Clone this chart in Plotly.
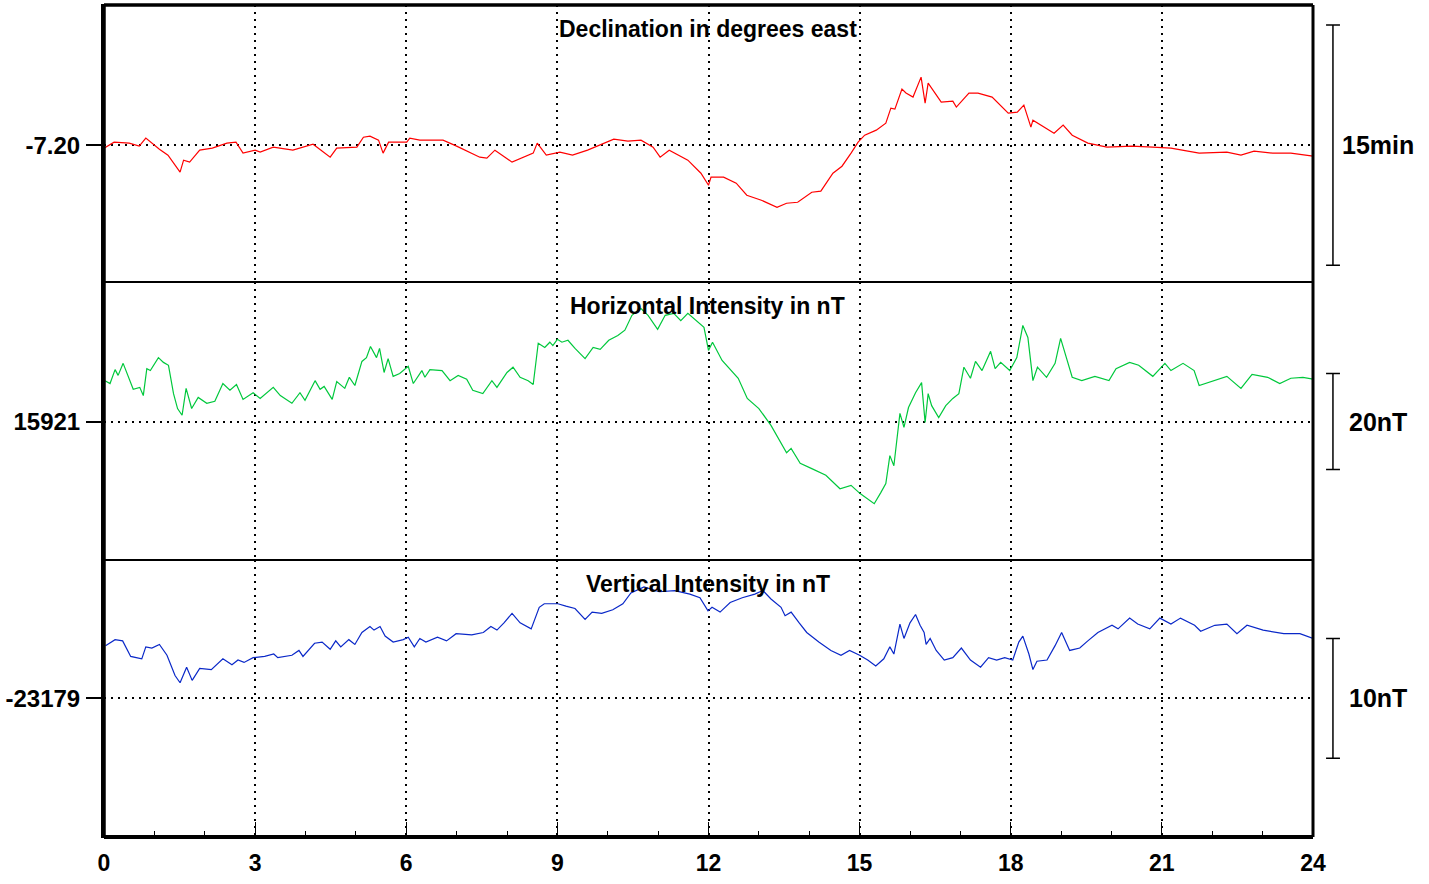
import plotly.graph_objects as go

# ---------------- data (hours UT, values) ----------------
t_dec = [0.00,0.20,0.50,0.70,0.83,1.10,1.27,1.40,1.51,1.58,1.70,1.90,2.15,2.44,2.62,2.76,3.00,3.10,3.36,3.75,
         4.15,4.49,4.62,5.02,5.15,5.28,5.45,5.54,5.65,6.01,6.07,6.27,6.73,7.00,7.46,7.60,7.76,8.10,8.52,8.60,
         8.78,9.05,9.30,9.60,9.85,10.12,10.40,10.66,10.90,11.04,11.22,11.59,11.85,12.00,12.05,12.30,12.55,12.76,13.05,13.36,
         13.55,13.77,14.05,14.23,14.47,14.65,14.83,14.97,15.10,15.33,15.52,15.62,15.70,15.84,15.92,16.06,16.22,16.30,16.36,16.62,
         16.85,16.92,17.17,17.35,17.63,17.95,18.13,18.26,18.40,18.44,18.86,19.04,19.22,19.53,19.91,20.40,20.82,21.18,21.74,22.29,
         22.57,22.83,23.20,23.56,24.00]
dec = [-7.2031,-7.1969,-7.1979,-7.2010,-7.1927,-7.2042,-7.2104,-7.2198,-7.2281,-7.2156,-7.2177,-7.2052,-7.2031,-7.1979,-7.1969,-7.2083,-7.2052,-7.2073,-7.2021,-7.2052,
       -7.1990,-7.2125,-7.2031,-7.2021,-7.1917,-7.1906,-7.1948,-7.2083,-7.1969,-7.1969,-7.1927,-7.1948,-7.1948,-7.2010,-7.2125,-7.2135,-7.2052,-7.2177,-7.2083,-7.1979,
       -7.2104,-7.2073,-7.2104,-7.2052,-7.2000,-7.1938,-7.1958,-7.1948,-7.2021,-7.2125,-7.2052,-7.2156,-7.2292,-7.2417,-7.2333,-7.2333,-7.2396,-7.2521,-7.2573,-7.2646,
       -7.2604,-7.2594,-7.2490,-7.2479,-7.2292,-7.2219,-7.2083,-7.1969,-7.1896,-7.1844,-7.1771,-7.1615,-7.1625,-7.1417,-7.1458,-7.1500,-7.1292,-7.1563,-7.1354,-7.1552,
       -7.1542,-7.1604,-7.1458,-7.1458,-7.1500,-7.1667,-7.1656,-7.1583,-7.1813,-7.1740,-7.1875,-7.1792,-7.1896,-7.1979,-7.2021,-7.2010,-7.2021,-7.2031,-7.2083,-7.2073,
       -7.2104,-7.2063,-7.2083,-7.2083,-7.2115]

t_h = [0.02,0.12,0.22,0.28,0.38,0.48,0.58,0.71,0.78,0.85,0.92,1.08,1.18,1.28,1.38,1.46,1.55,1.63,1.74,1.87,
       2.04,2.20,2.36,2.50,2.63,2.76,2.96,3.10,3.36,3.50,3.73,3.89,3.99,4.19,4.29,4.37,4.53,4.62,4.78,4.87,
       4.98,5.12,5.21,5.29,5.41,5.47,5.56,5.64,5.74,5.87,6.04,6.14,6.31,6.37,6.47,6.71,6.87,7.03,7.20,7.32,
       7.52,7.70,7.80,8.00,8.12,8.26,8.42,8.52,8.62,8.75,8.85,8.91,9.00,9.09,9.21,9.35,9.55,9.71,9.85,10.02,
       10.20,10.34,10.48,10.66,10.80,10.99,11.14,11.31,11.45,11.59,11.81,11.91,12.00,12.08,12.27,12.50,12.59,12.77,13.00,13.24,
       13.42,13.55,13.64,13.82,14.05,14.33,14.61,14.83,15.01,15.15,15.29,15.42,15.52,15.60,15.68,15.80,15.88,15.97,16.11,16.23,
       16.30,16.36,16.43,16.57,16.71,16.85,16.97,17.07,17.20,17.30,17.43,17.60,17.69,17.80,17.98,18.12,18.24,18.34,18.44,18.53,
       18.71,18.88,18.99,19.22,19.41,19.67,19.95,20.09,20.36,20.54,20.82,21.06,21.18,21.42,21.64,21.74,22.01,22.29,22.57,22.79,
       23.10,23.34,23.56,23.80,24.00]
h_nt = [15929.5,15928.9,15931.8,15930.6,15933.1,15930.2,15927.7,15928.1,15926.4,15932.0,15931.6,15934.3,15933.3,15932.7,15926.8,15923.7,15922.3,15927.9,15923.7,15926.0,
        15924.8,15925.2,15928.9,15927.5,15928.7,15925.6,15927.0,15925.8,15928.1,15926.4,15924.8,15927.0,15925.4,15929.5,15927.7,15928.3,15925.6,15929.3,15927.9,15930.2,
        15928.5,15933.5,15934.3,15936.6,15934.3,15936.2,15931.2,15934.1,15930.4,15931.0,15932.5,15928.9,15931.6,15930.2,15931.8,15931.6,15929.5,15930.6,15929.8,15927.5,
        15926.8,15929.5,15928.1,15931.2,15932.3,15930.2,15929.5,15928.7,15937.3,15936.4,15937.5,15936.8,15938.1,15937.5,15937.9,15936.2,15934.1,15936.4,15936.0,15937.9,
        15938.9,15940.0,15943.1,15944.5,15943.1,15940.2,15943.1,15943.5,15942.0,15943.5,15941.6,15940.6,15935.8,15937.5,15933.7,15931.2,15930.0,15925.8,15923.7,15920.2,
        15917.0,15914.5,15915.4,15912.3,15911.2,15909.8,15907.0,15907.7,15906.0,15905.0,15903.9,15906.2,15908.1,15913.9,15911.8,15922.7,15919.8,15923.9,15927.0,15929.1,
        15920.8,15926.8,15924.3,15921.8,15924.3,15925.8,15926.8,15932.3,15930.0,15933.5,15931.6,15935.6,15932.0,15933.3,15931.6,15934.3,15941.0,15938.5,15929.5,15932.3,
        15930.2,15933.1,15938.3,15930.2,15929.5,15930.4,15929.5,15932.0,15933.3,15932.7,15930.4,15933.1,15931.6,15933.1,15931.6,15928.5,15929.5,15930.4,15927.9,15930.8,
        15930.2,15928.9,15930.0,15930.2,15929.8]

t_z = [0.03,0.22,0.37,0.53,0.64,0.75,0.83,0.95,1.10,1.25,1.41,1.51,1.64,1.75,1.90,2.13,2.36,2.54,2.66,2.78,
       2.96,3.19,3.37,3.45,3.73,3.87,3.95,4.18,4.33,4.49,4.60,4.70,4.86,4.98,5.12,5.28,5.36,5.48,5.58,5.74,
       5.94,6.04,6.16,6.27,6.39,6.62,6.80,6.99,7.30,7.53,7.68,7.80,7.94,8.10,8.26,8.48,8.64,8.74,8.86,9.01,
       9.17,9.35,9.55,9.69,9.88,10.10,10.30,10.46,10.72,11.02,11.33,11.63,11.83,11.99,12.07,12.23,12.43,12.67,12.92,13.08,
       13.24,13.44,13.52,13.64,13.80,13.95,14.19,14.43,14.63,14.80,15.00,15.16,15.32,15.48,15.60,15.68,15.80,15.88,16.00,16.11,
       16.20,16.28,16.32,16.40,16.52,16.68,16.85,17.02,17.20,17.40,17.56,17.72,17.88,18.04,18.16,18.24,18.36,18.44,18.52,18.72,
       18.88,19.01,19.17,19.37,19.53,19.73,20.01,20.13,20.36,20.52,20.76,20.96,21.18,21.37,21.65,21.77,22.05,22.29,22.49,22.69,
       23.01,23.42,23.74,24.00]
z_nt = [-23174.6,-23174.1,-23174.2,-23175.5,-23175.6,-23175.7,-23174.7,-23174.8,-23174.5,-23175.4,-23177.1,-23177.7,-23176.4,-23177.5,-23176.5,-23176.6,-23175.7,-23176.2,-23175.8,-23176.0,
        -23175.6,-23175.5,-23175.3,-23175.6,-23175.4,-23175.0,-23175.5,-23174.4,-23174.3,-23174.9,-23174.2,-23174.7,-23174.1,-23174.5,-23173.5,-23173.0,-23173.3,-23173.0,-23173.8,-23174.3,
        -23174.1,-23173.9,-23174.7,-23174.0,-23174.3,-23173.9,-23174.2,-23173.6,-23173.7,-23173.5,-23173.0,-23173.3,-23172.7,-23171.9,-23172.7,-23173.2,-23171.4,-23171.1,-23171.1,-23171.1,
        -23171.3,-23171.5,-23172.4,-23171.8,-23171.9,-23171.6,-23171.1,-23170.2,-23169.7,-23170.1,-23170.0,-23170.3,-23170.6,-23171.7,-23171.4,-23171.8,-23171.0,-23170.6,-23170.3,-23170.0,
        -23170.7,-23171.4,-23172.1,-23171.8,-23172.7,-23173.5,-23174.3,-23175.0,-23175.4,-23175.0,-23175.4,-23175.8,-23176.3,-23175.7,-23174.7,-23175.3,-23172.8,-23174.0,-23172.7,-23172.0,
        -23172.9,-23173.5,-23174.5,-23174.0,-23175.0,-23175.8,-23175.6,-23174.8,-23175.8,-23176.4,-23175.6,-23175.8,-23175.6,-23175.8,-23174.3,-23173.8,-23175.3,-23176.6,-23175.9,-23175.8,
        -23174.6,-23173.5,-23175.0,-23174.8,-23174.2,-23173.5,-23172.9,-23173.2,-23172.3,-23172.8,-23173.2,-23172.3,-23172.8,-23172.3,-23172.9,-23173.4,-23172.9,-23172.8,-23173.6,-23172.9,
        -23173.3,-23173.6,-23173.6,-23174.0]

panel_titles = ["Declination in degrees east", "Horizontal Intensity in nT", "Vertical Intensity in nT"]
ref_values = [-7.20, 15921, -23179]
ref_labels = ["-7.20", "15921", "-23179"]
scale_sizes = [0.25, 20, 10]          # 15 arcmin, 20 nT, 10 nT
scale_labels = ["15min", "20nT", "10nT"]
y_ranges = [[-7.3427, -7.0542], [15892.25, 15949.96], [-23190.58, -23167.42]]
hour_ticks = list(range(0, 25, 3))
colors = ["#ff0000", "#00c83c", "#0a28c8"]

# ---------------- figure ----------------
FONT = "Liberation Sans, Arial, Helvetica, sans-serif"
fig = go.Figure()
series = [(t_dec, dec), (t_h, h_nt), (t_z, z_nt)]
for i, (tx, vy) in enumerate(series):
    sfx = "" if i == 0 else str(i + 1)
    fig.add_trace(go.Scatter(x=tx, y=vy, mode="lines", line=dict(color=colors[i], width=1.2),
                             xaxis="x" + sfx, yaxis="y" + sfx, showlegend=False, hoverinfo="skip"))

domains = [[2 / 3, 1.0], [1 / 3, 2 / 3], [0.0, 1 / 3]]
layout = dict(
    width=1429, height=884,
    margin=dict(l=104, r=116, t=5, b=47, autoexpand=False),
    paper_bgcolor="white", plot_bgcolor="white",
    font=dict(family=FONT, color="black"),
    showlegend=False,
)
for i in range(3):
    sfx = "" if i == 0 else str(i + 1)
    bottom = (i == 2)
    xa = dict(
        domain=[0, 1], anchor="y" + sfx, range=[0, 24],
        tickmode="array", tickvals=hour_ticks, ticktext=[str(h) for h in hour_ticks],
        showticklabels=bottom, automargin=False,
        ticks="inside" if bottom else "", ticklen=15, tickwidth=1, tickcolor="black",
        showgrid=True, gridcolor="black", gridwidth=1.6, griddash="2px,5px",
        showline=True, linecolor="black", linewidth=1, mirror=True,
        zeroline=False, fixedrange=True,
        tickfont=dict(family=FONT, size=23, color="black", weight="bold"),
    )
    if bottom:
        xa["minor"] = dict(dtick=1, tick0=0, ticks="inside", ticklen=6, tickwidth=1,
                           tickcolor="black", showgrid=False)
        xa["ticklabelstandoff"] = 5
    if i > 0:
        xa["matches"] = "x"
    ya = dict(
        domain=domains[i], anchor="x" + sfx, range=y_ranges[i],
        tickmode="array", tickvals=[ref_values[i]], ticktext=[ref_labels[i]],
        ticks="outside", ticklen=15, tickwidth=1.5, tickcolor="black",
        ticklabelstandoff=1, automargin=False,
        showgrid=True, gridcolor="black", gridwidth=1.6, griddash="2px,5px",
        showline=True, linecolor="black", linewidth=3,
        zeroline=False, fixedrange=True,
        tickfont=dict(family=FONT, size=24, color="black", weight="bold"),
    )
    layout["xaxis" + sfx] = xa
    layout["yaxis" + sfx] = ya
fig.update_layout(**layout)

# outer thick frame
fig.add_shape(type="line", xref="paper", yref="paper", x0=0, x1=1, y0=1, y1=1,
              line=dict(color="black", width=3.5))
fig.add_shape(type="line", xref="paper", yref="paper", x0=0, x1=1, y0=0, y1=0,
              line=dict(color="black", width=4))
fig.add_shape(type="line", xref="paper", yref="paper", x0=1, x1=1, y0=0, y1=1,
              line=dict(color="black", width=3))
fig.add_shape(type="line", xref="paper", yref="paper", x0=0, x1=0, y0=0, y1=1,
              line=dict(color="black", width=3.5))

# panel titles, scale bars and labels
bar_x, cap_l, cap_r = 1.0165, 1.0108, 1.0223
for i in range(3):
    sfx = "" if i == 0 else str(i + 1)
    fig.add_annotation(text="<b>" + panel_titles[i] + "</b>", xref="paper", yref="y" + sfx + " domain",
                       x=0.4995, y=1, yanchor="top", xanchor="center", yshift=-9, showarrow=False,
                       font=dict(family=FONT, size=23, color="black"))
    lo = ref_values[i] - scale_sizes[i] / 2
    hi = ref_values[i] + scale_sizes[i] / 2
    yr = "y" + sfx
    fig.add_shape(type="line", xref="paper", yref=yr, x0=bar_x, x1=bar_x, y0=lo, y1=hi,
                  line=dict(color="black", width=1.5))
    for yy in (lo, hi):
        fig.add_shape(type="line", xref="paper", yref=yr, x0=cap_l, x1=cap_r, y0=yy, y1=yy,
                      line=dict(color="black", width=1.5))
    fig.add_annotation(text="<b>" + scale_labels[i] + "</b>", xref="paper", yref=yr,
                       x=1.0538, y=ref_values[i], xanchor="center", yanchor="middle", showarrow=False,
                       font=dict(family=FONT, size=25, color="black"))

fig.write_html("out.html", config={"displayModeBar": False},
               post_script="document.body.style.margin='0';document.body.style.padding='0';")
